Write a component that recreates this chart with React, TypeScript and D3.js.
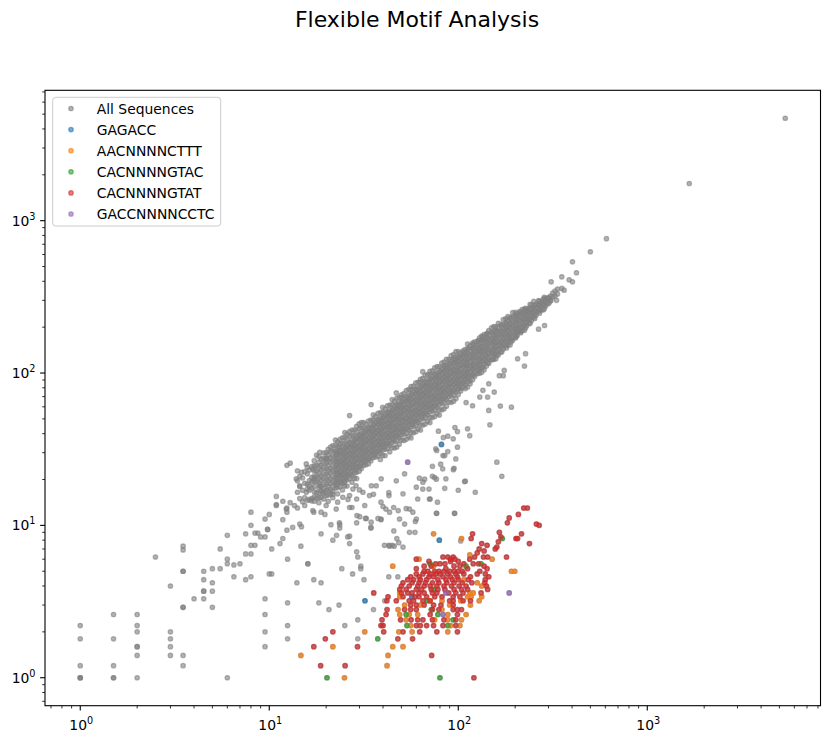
import { useEffect, useRef } from "react";
import * as d3 from "d3";

type Pt = [number, number];

// Dense diagonal cloud of "All Sequences", read column by column: [x, y values]
const coreColumns: [number, number[]][] = [
    [14.1, [13.0, 16.5, 19.6, 22.8]],
    [15.0, [14.3, 17.0, 20.5]],
    [15.9, [14.6, 17.3, 18.6, 21.8, 24.0]],
    [16.8, [15.0, 17.6, 19.3, 20.7, 24.3]],
    [17.8, [15.1, 16.4, 19.3, 20.9, 22.7, 24.6, 28.9]],
    [18.8, [15.3, 16.8, 18.0, 19.7, 21.1, 23.1, 24.8, 27.2]],
    [20.0, [15.7, 17.0, 18.5, 20.0, 21.7, 23.5, 25.5, 27.6, 29.9]],
    [21.1, [16.0, 17.2, 18.8, 20.2, 22.1, 23.7, 26.0, 27.8, 30.5, 32.7]],
    [22.4, [17.6, 19.1, 20.7, 22.4, 24.3, 26.3, 28.5, 30.9, 33.5, 36.3]],
    [23.7, [18.0, 19.3, 21.1, 22.6, 24.8, 26.6, 29.2, 31.2, 34.2, 36.7]],
    [25.1, [18.2, 19.7, 21.4, 23.2, 25.1, 27.2, 29.5, 32.0, 34.6, 37.5, 40.7]],
    [26.6, [20.2, 21.6, 23.7, 25.4, 27.9, 29.9, 32.7, 35.1, 38.4, 41.2]],
    [28.2, [20.4, 22.1, 24.0, 26.0, 28.2, 30.6, 33.1, 35.9, 38.9, 42.2]],
    [29.9, [22.7, 24.3, 26.6, 28.6, 31.3, 33.5, 36.8, 39.4, 43.2, 46.3]],
    [31.6, [24.8, 26.9, 29.2, 31.6, 34.3, 37.1, 40.3, 43.6, 47.3]],
    [33.5, [25.4, 27.2, 29.8, 32.0, 35.1, 37.6, 41.2, 44.2, 48.4]],
    [35.5, [27.9, 30.2, 32.8, 35.5, 38.5, 41.7, 45.2, 49.0, 53.1]],
    [37.6, [28.5, 30.6, 33.5, 35.9, 39.4, 42.2, 46.2, 49.6, 54.3]],
    [39.8, [28.8, 31.2, 33.9, 36.7, 39.8, 43.1, 46.8, 50.7, 54.9, 59.5]],
    [42.2, [32.0, 34.3, 37.6, 40.3, 44.2, 47.3, 51.9, 55.6, 61.0]],
    [44.7, [32.4, 35.1, 38.0, 41.3, 44.7, 48.5, 52.5, 56.9, 61.7, 66.9]],
    [47.3, [32.7, 35.9, 38.5, 42.1, 45.2, 49.5, 53.1, 58.2, 62.3, 68.3]],
    [50.1, [36.3, 39.3, 42.6, 46.2, 50.1, 54.3, 58.9, 63.8, 69.1, 72.0]],
    [53.1, [36.7, 40.3, 43.2, 47.3, 50.7, 55.6, 59.6, 65.3, 70.0, 76.7]],
    [56.2, [37.5, 40.7, 44.1, 47.8, 51.9, 56.2, 60.9, 66.0, 71.6, 77.6, 81.5]],
    [59.6, [41.2, 45.2, 48.5, 53.1, 56.9, 62.4, 66.9, 73.3, 78.6, 86.1]],
    [63.1, [42.2, 45.7, 49.5, 53.7, 58.2, 63.1, 68.4, 74.1, 80.4, 87.1, 91.0]],
    [66.8, [46.2, 50.7, 54.3, 59.5, 63.8, 69.9, 75.0, 82.2, 88.0, 96.5]],
    [70.8, [47.3, 51.3, 55.6, 60.2, 65.3, 70.8, 76.7, 83.2, 90.2, 97.7, 102.6]],
    [75.0, [51.9, 56.9, 61.0, 66.8, 71.6, 78.5, 84.2, 92.3, 98.9, 108]],
    [79.4, [53.0, 57.5, 62.3, 67.6, 73.3, 79.4, 86.1, 93.3, 101, 110]],
    [84.1, [58.2, 63.8, 68.4, 74.9, 80.3, 88.1, 94.4, 103, 111, 118]],
    [89.1, [64.5, 70.0, 75.8, 82.2, 89.1, 96.6, 105, 114, 123]],
    [94.4, [65.3, 71.7, 76.7, 84.1, 90.2, 98.8, 106, 116, 124, 132]],
    [100, [72.4, 78.5, 85.1, 92.3, 100, 108, 118, 127, 138]],
    [106, [80.4, 86.2, 94.4, 101, 111, 119, 130, 140]],
    [112, [81.1, 87.9, 95.3, 103, 112, 121, 132, 143, 155]],
    [119, [90.3, 96.7, 106, 114, 125, 134, 146, 157]],
    [126, [98.9, 107, 116, 126, 137, 148, 161]],
    [133, [101, 108, 119, 127, 139, 149, 164, 175]],
    [141, [111, 120, 130, 141, 153, 166, 180]],
    [150, [122, 134, 143, 157, 168, 185, 198]],
    [158, [124, 134, 146, 158, 171, 186, 201]],
    [168, [137, 150, 160, 176, 188, 207]],
    [178, [151, 164, 178, 193, 209, 227]],
    [188, [153, 168, 180, 197, 211, 231]],
    [200, [170, 185, 200, 217, 235, 250]],
    [211, [188, 202, 221, 237, 253]],
    [224, [191, 207, 224, 243, 263]],
    [237, [211, 226, 248, 266]],
    [251, [232, 251, 272, 295]],
    [266, [254, 279, 299]],
    [282, [260, 282, 306]],
    [298, [285, 312]],
    [316, [316, 335]],
    [335, [330, 355]],
];

// Second pass through the same cloud, between the columns above
const coreFill: [number, number[]][] = [
    [14.5, [15.0, 18.0, 21.0]],
    [15.4, [15.2, 18.9, 22.5]],
    [16.3, [14.8, 17.0, 18.2, 19.7, 23.1]],
    [17.3, [14.4, 15.4, 16.6, 18.0, 19.4, 20.9, 22.7, 24.6, 26.6]],
    [18.3, [14.1, 15.2, 16.3, 17.6, 19.0, 20.5, 22.1, 24.0, 26.0, 28.3]],
    [19.4, [14.9, 16.1, 17.3, 18.6, 20.2, 21.7, 23.5, 25.4, 27.5, 29.9]],
    [20.5, [14.4, 15.8, 17.0, 18.2, 19.7, 21.3, 23.0, 24.8, 26.9, 29.1, 31.6]],
    [21.7, [15.2, 16.7, 18.0, 19.3, 20.8, 22.6, 24.3, 26.3, 28.4, 30.8, 33.4]],
    [23.0, [16.1, 17.7, 19.1, 20.5, 22.1, 23.9, 25.8, 27.8, 30.1, 32.7, 35.4]],
    [24.4, [17.1, 18.8, 20.3, 21.7, 23.4, 25.4, 27.3, 29.5, 32.0, 34.6, 37.6]],
    [25.8, [18.1, 19.9, 21.4, 23.0, 24.8, 26.8, 28.9, 31.2, 33.8, 36.6, 39.7]],
    [27.4, [19.2, 21.1, 22.7, 24.4, 26.3, 28.5, 30.7, 33.2, 35.9, 38.9, 42.2]],
    [29.0, [20.3, 22.3, 24.1, 25.8, 27.8, 30.2, 32.5, 35.1, 38.0, 41.2, 44.7]],
    [30.7, [23.6, 25.5, 27.3, 29.5, 31.9, 34.4, 37.1, 40.2, 43.6, 47.3]],
    [32.5, [25.0, 27.0, 28.9, 31.2, 33.8, 36.4, 39.3, 42.6, 46.2]],
    [34.5, [26.6, 28.6, 30.7, 33.1, 35.9, 38.6, 41.7, 45.2, 49.0]],
    [36.5, [28.1, 30.3, 32.5, 35.0, 38.0, 40.9, 44.2, 47.8, 51.8]],
    [38.7, [27.1, 29.8, 32.1, 34.4, 37.2, 40.2, 43.3, 46.8, 50.7, 55.0]],
    [41.0, [28.7, 31.6, 34.0, 36.5, 39.4, 42.6, 45.9, 49.6, 53.7, 58.2]],
    [43.4, [30.4, 33.4, 36.0, 38.6, 41.7, 45.1, 48.6, 52.5, 56.9, 61.6]],
    [46.0, [32.2, 35.4, 38.2, 40.9, 44.2, 47.8, 51.5, 55.7, 60.3, 65.3]],
    [48.7, [34.1, 37.5, 40.4, 43.3, 46.8, 50.6, 54.5, 58.9, 63.8, 69.2]],
    [51.6, [36.1, 39.7, 42.8, 45.9, 49.5, 53.7, 57.8, 62.4, 67.6, 73.3]],
    [54.7, [38.3, 42.1, 45.4, 48.7, 52.5, 56.9, 61.3, 66.2, 71.7, 77.7]],
    [57.9, [40.5, 44.6, 48.1, 51.5, 55.6, 60.2, 64.8, 70.1, 75.8, 82.2]],
    [61.3, [42.9, 47.2, 50.9, 54.6, 58.8, 63.8, 68.7, 74.2, 80.3, 87.0]],
    [65.0, [45.5, 50.1, 54.0, 57.9, 62.4, 67.6, 72.8, 78.7, 85.2, 92.3]],
    [68.8, [48.2, 53.0, 57.1, 61.2, 66.0, 71.6, 77.1, 83.2, 90.1, 97.7]],
    [72.9, [51.0, 56.1, 60.5, 64.9, 70.0, 75.8, 81.6, 88.2, 95.5, 103.5]],
    [77.2, [54.0, 59.4, 64.1, 68.7, 74.1, 80.3, 86.5, 93.4, 101, 110]],
    [81.8, [57.3, 63.0, 67.9, 72.8, 78.5, 85.1, 91.6, 99.0, 107, 116]],
    [86.6, [60.6, 66.7, 71.9, 77.1, 83.1, 90.1, 97.0, 105, 113, 123]],
    [91.7, [64.2, 70.6, 76.1, 81.6, 88.0, 95.4, 103, 111, 120, 130]],
    [97.2, [68.0, 74.8, 80.7, 86.5, 93.3, 101, 109, 118, 127, 138]],
    [103, [76.2, 79.3, 85.5, 91.7, 98.9, 107, 115, 125, 135]],
    [109, [79.0, 83.9, 90.5, 97.0, 105, 113, 122, 132, 143]],
    [115.5, [85.0, 88.9, 95.9, 103, 111, 120, 129, 140, 151]],
    [122, [95.0, 101, 109, 117, 127, 137, 148, 160]],
    [129.5, [99.7, 107, 115, 124, 135, 145, 157, 170]],
    [137, [105, 114, 122, 132, 142, 153, 166, 179]],
    [145, [116, 125, 134, 143, 154, 166, 178, 190]],
    [154, [123, 132, 141, 152, 162, 175, 188, 202]],
    [163, [132, 141, 151, 162, 174, 186, 200, 212]],
    [173, [144, 154, 166, 180, 194, 209, 224]],
    [183, [152, 163, 176, 190, 205, 221, 235]],
    [194, [164, 173, 186, 202, 217, 234, 249]],
    [205, [176, 186, 197, 213, 230, 246]],
    [218, [190, 200, 212, 227, 244, 261]],
    [230, [204, 215, 228, 242, 258]],
    [244, [221, 234, 248, 265, 280]],
    [258, [239, 252, 266, 283]],
    [274, [258, 273, 290]],
    [290, [275, 292, 309]],
    [307, [297, 320]],
    [325, [320, 345]],
];

// Centre of the cloud, where the markers pile up most
const coreCentre: [number, number[]][] = [
    [22.7, [18.4, 19.9, 21.5, 23.2, 25.0, 27.0, 29.1]],
    [24.0, [19.4, 21.0, 22.7, 24.5, 26.4, 28.6, 30.7]],
    [25.4, [20.6, 22.2, 24.0, 25.9, 27.9, 30.2, 32.5]],
    [26.9, [21.8, 23.5, 25.4, 27.4, 29.6, 32.0, 34.4]],
    [28.5, [23.1, 24.9, 26.9, 29.1, 31.4, 33.9, 36.5]],
    [30.3, [24.5, 26.5, 28.6, 30.9, 33.3, 36.1, 38.8]],
    [32.0, [25.9, 28.0, 30.2, 32.6, 35.2, 38.1, 41.0]],
    [33.9, [27.5, 29.7, 32.0, 34.6, 37.3, 40.3, 43.4]],
    [35.9, [29.1, 31.4, 33.9, 36.6, 39.5, 42.7, 46.0]],
    [38.1, [30.9, 33.3, 36.0, 38.9, 41.9, 45.3, 48.8]],
    [40.3, [32.6, 35.3, 38.1, 41.1, 44.3, 48.0, 51.6]],
    [42.7, [34.6, 37.4, 40.4, 43.6, 47.0, 50.8, 54.7]],
    [45.2, [36.6, 39.6, 42.7, 46.1, 49.7, 53.8, 57.9]],
    [47.9, [38.8, 41.9, 45.3, 48.9, 52.7, 57.0, 61.3]],
    [50.7, [41.1, 44.4, 47.9, 51.7, 55.8, 60.3, 64.9]],
    [53.7, [43.5, 47.0, 50.7, 54.8, 59.1, 63.9, 68.7]],
    [56.9, [46.1, 49.8, 53.8, 58.0, 62.6, 67.7, 72.8]],
    [60.3, [48.8, 52.8, 57.0, 61.5, 66.3, 71.8, 77.2]],
    [63.9, [51.8, 55.9, 60.4, 65.2, 70.3, 76.0, 81.8]],
    [67.6, [54.8, 59.2, 63.9, 69.0, 74.4, 80.4, 86.5]],
    [71.6, [58.0, 62.7, 67.7, 73.0, 78.8, 85.2, 91.6]],
    [75.9, [61.5, 66.4, 71.7, 77.4, 83.5, 90.3, 97.2]],
    [80.4, [65.1, 70.4, 76.0, 82.0, 88.4, 95.7, 103]],
    [85.1, [68.9, 74.5, 80.4, 86.8, 93.6, 101, 109]],
    [90.2, [73.1, 78.9, 85.2, 92.0, 99.2, 107, 115]],
    [95.5, [77.4, 83.6, 90.2, 97.4, 105, 114, 122]],
    [101, [81.8, 88.4, 95.4, 103, 111, 120, 129]],
    [107, [86.7, 93.6, 101, 109, 118, 127, 137]],
    [113, [91.5, 98.9, 107, 115, 124, 134, 145]],
    [120, [97.2, 105, 113, 122, 132, 143, 154]],
    [128, [104, 112, 121, 131, 141, 152, 164]],
    [135, [109, 118, 128, 138, 149, 161, 173]],
    [143, [116, 125, 135, 146, 157, 170, 183]],
    [152, [123, 133, 144, 155, 167, 181]],
    [160, [130, 140, 151, 163, 176, 190]],
    [170, [138, 149, 161, 173, 187, 202]],
    [180, [146, 158, 170, 184, 198, 214]],
    [190, [160, 166, 180, 194, 209, 226]],
    [202, [172, 177, 191, 206, 222, 240]],
    [214, [184, 187, 202, 218, 235, 251]],
    [227, [198, 215, 232, 250, 266]],
    [240, [212, 227, 245, 264, 282]],
    [254, [228, 240, 259, 279]],
    [269, [247, 262, 280, 296]],
    [285, [264, 280, 299, 314]],
    [302, [288, 310]],
];

// Sparse points at the top end of the diagonal
const upperTail: Pt[] = [
    [309, 300], [331, 300], [310, 397], [353, 428], [353, 359], [363, 350], [386, 409],
    [402, 397], [422, 455], [402, 537], [500, 625], [608, 762], [1668, 1754], [5370, 4700],
    [266, 194], [286, 205],
];

// Scatter around and below the diagonal band
const belowBand: Pt[] = [
    [224, 111], [206, 124], [227, 134], [191, 59.7], [167, 60.7], [145, 56.8], [173, 96],
    [175, 104], [165, 96], [145, 85], [135, 77], [155, 75], [143, 69.5], [130, 69.5],
    [119, 61], [110, 64], [112, 43], [115, 38.8], [99, 41.3], [99, 32.6], [88, 38.5],
    [94, 37], [88, 30.5], [97, 27.3], [95, 23.7], [80.7, 25.2], [82.7, 23.5], [76, 31.8],
    [83, 28.7], [75, 20.6], [86, 20.2], [108, 19.4], [123, 16.5], [100, 17], [65, 19.2],
    [70, 17.3], [60, 17.8], [52, 21.8], [47, 19.6], [51, 16.1], [43, 15.7], [36.8, 18.2],
    [39, 14.2], [33.9, 15.7], [31.3, 16.5], [28.8, 18.2], [26.6, 15.7], [25, 19.2], [23, 14.2],
    [147, 45.7], [160, 26], [170, 21], [95.7, 12], [76.9, 12], [109, 19.5], [84.8, 17.5],
    [76.6, 20.1], [73, 21], [71, 14.9], [96, 43.9], [83.4, 37.7], [78.5, 41.5], [76.9, 31],
    [84.8, 28.7], [94.2, 23.2], [73, 24.4], [66.4, 20.1], [62.3, 20.4], [64.9, 17.3], [61, 14.9],
    [59.3, 10.6], [53, 12.9], [48.1, 12.5], [45.5, 13.1], [42.9, 16.4], [40, 13.3], [39, 10.9],
    [43.3, 7.3], [45.8, 7.3], [48.4, 7.7], [34.6, 10.5], [32.6, 11.1], [29.1, 11.6], [27.4, 13.1],
    [26.1, 14.8], [30, 17.1], [34.7, 18.2], [39.1, 20.2], [26.6, 8.5], [23.5, 10.4],
    [26.6, 52.6], [34.6, 62.1], [64.9, 102], [47, 74],
];

// Low-count sequences in the lower left
const lowCounts: Pt[] = [
    [1, 1], [1, 1], [1, 1], [1, 1.2], [1, 1.8], [1, 2.2],
    [1.5, 1], [1.5, 1], [1.5, 1.2], [1.5, 1.8], [1.5, 2.6],
    [2, 1], [2, 1.4], [2, 1.6], [2, 1.6], [2, 2.0], [2, 2.2], [2, 2.6],
    [2.5, 6.2],
    [3, 1.4], [3, 1.6], [3, 1.8], [3, 2.0], [3, 4.0],
    [3.5, 1.2], [3.5, 1.4], [3.5, 2.9], [3.5, 2.9], [3.5, 5.0], [3.5, 5.0], [3.5, 6.9], [3.5, 7.3],
    [4, 3.3],
    [4.5, 3.3], [4.5, 3.7], [4.5, 3.7], [4.5, 4.4], [4.5, 5.0],
    [5, 2.9], [5, 3.7], [5, 4.2], [5, 5.2],
    [5.5, 5.2], [5.5, 7.0],
    [6, 1], [6, 5.6], [6, 6.0], [6, 8.6],
    [6.5, 5.5], [6.5, 4.6], [7, 5.6],
    [7.5, 4.4], [7.5, 8.8], [7.5, 6.5],
    [8, 4.6], [8, 12.2], [8, 10], [8, 7.4], [8, 6.5],
    [8.4, 8.9], [8.4, 7.4], [8.7, 8.9], [9, 8.4],
    [9.5, 3.3], [9.5, 2.6], [9.5, 2.0], [9.5, 1.6], [9.5, 11], [9.5, 8.4],
    [9.8, 9.4], [9.8, 9.4], [10, 11.8], [10, 4.8], [10.3, 4.8], [10.3, 7.0],
    [10.9, 15.5], [10.9, 13.7], [11.4, 7.6], [11.8, 14.4], [11.8, 10.9], [11.8, 8.2],
    [12.4, 24.8], [12.9, 25.6], [12.4, 13.0], [12.4, 12.2], [12.4, 9.3], [12.5, 6.0],
    [12.5, 3.1], [12.5, 2.2], [12.5, 1.8],
    [12.9, 14.1], [13.3, 9.7], [14, 4.2], [14.5, 10.2], [14.8, 9.8], [14.7, 7.3],
    [16, 5.6], [16, 5.6], [17.2, 4.4], [17.2, 12.2], [18.3, 3.1], [18.8, 4.2], [18.8, 12.2],
    [18.8, 8.8], [19.7, 11.8],
    [20.7, 2.8], [21.2, 10.1], [21.7, 8.0], [22.7, 8.6], [23.4, 3.0], [23.6, 10.1], [23.6, 9.6],
    [24.2, 5.2], [25.1, 2.2], [26, 8.4], [26.6, 7.6], [27.6, 4.8], [29, 10.4], [29, 6.7],
    [29.4, 6.2], [29.4, 2.4], [29.4, 1.8], [30.5, 5.4], [30.5, 5.2], [31.7, 4.4], [32.3, 11.1],
    [34.5, 9.6], [35.6, 2.8], [37.6, 11.1], [30.1, 11.4],
    [40.8, 3.2], [42.9, 4.6], [47.9, 4.6], [40.7, 7.4], [42.9, 7.4], [44.7, 7.4], [47.3, 8.2],
    [51, 7.2], [55.2, 9.0], [59, 9.0], [45.6, 9.2], [52, 10.2], [48.9, 11.0], [60, 11.0],
    [39, 11.0], [41.4, 12.8], [43.3, 12.2], [55.2, 12.8], [57.5, 12.2], [76.6, 12], [95.5, 12],
    [70.4, 14.9], [77.6, 14.2], [103, 7.9], [34.5, 9.7],
    [13.9, 20.2], [14.8, 22.3], [14.5, 18.2], [15.7, 16.5], [16.7, 14.5], [17.3, 20.2],
    [18.5, 18.2], [19.2, 16.5], [10.9, 13.5], [12.3, 12.8], [13.6, 13.5], [15.4, 13.5],
    [17, 12.5], [20, 13.5], [22.6, 12.8], [26.6, 13.1], [29, 14.9], [32, 13.5], [35.6, 16],
    [21.7, 16], [24.5, 15.3], [27.7, 17.3], [17, 23.4], [15.7, 25.3], [20, 27.3], [22.6, 30.2],
    [18.5, 30.2], [23.5, 32.6],
];

// Motif series
const gagacc: Pt[] = [[81.5, 34], [79.4, 8.0], [32.1, 3.2], [56.7, 3.4]];

const aacnnnncttt: Pt[] = [
    [25, 1.0], [14.7, 1.4], [21.7, 1.6], [42, 1.2], [42.5, 1.4], [45, 1.6], [51, 1.6],
    [32, 2.0], [48.5, 2.0], [57, 2.0], [88, 2.0], [56, 2.2], [91, 2.2], [102, 2.2],
    [53, 2.4], [75, 2.4], [88, 2.4], [104, 2.4], [49, 2.6], [55, 2.6], [61, 2.6], [88, 2.6],
    [110, 2.6], [48, 2.8], [82, 2.8], [52, 3.0], [63, 3.0], [90, 3.0], [116, 3.0], [71, 3.2],
    [82, 3.2], [103, 3.2], [129, 3.2], [49, 3.4], [49, 3.6], [112, 3.4], [117, 3.4], [133, 3.4],
    [133, 4.0], [126, 4.2], [115, 3.6], [120, 3.6], [45, 5.4], [62, 6.0], [115, 6.4], [151, 6.0],
    [104, 8.2], [74, 8.8], [191, 5.0], [199, 5.0], [74, 5.4], [107, 4.4],
];

const cacnnnngtac: Pt[] = [
    [20.2, 1.0], [80, 1.0], [37.5, 1.8], [53.5, 2.2], [53, 2.6], [78, 2.6], [94, 2.4],
    [68.5, 3.2], [72, 2.8], [110, 5.4], [132, 5.6], [171, 8.2], [74, 3.8], [71, 5.6], [88, 2.2],
];

const cacnnnngtat: Pt[] = [
    [222, 13], [232, 13], [208, 11.8], [186, 11.2], [182, 10.4], [259, 10.2], [268, 10.0],
    [216, 8.8], [202, 8.2], [206, 8.2], [238, 7.6], [168, 8.4], [163, 7.8], [160, 7.2],
    [157, 7.0], [180, 6.2], [165, 9.0], [119, 8.8], [117, 8.2], [133, 7.6], [142, 7.4],
    [129, 7.0], [137, 6.8], [126, 6.6], [136, 6.2], [143, 6.2], [122, 6.2], [115, 6.0],
    [83, 6.2], [88, 6.2], [94, 6.2], [91, 6.0], [96, 6.0], [60, 6.0],
    [100, 5.8], [70, 5.8], [91, 5.8],
    [107, 5.6], [76, 5.6], [80, 5.6], [85, 5.6], [120, 5.6], [128, 5.6],
    [66, 5.4], [72, 5.4], [95, 5.4], [102, 5.4], [137, 5.4],
    [142, 5.2], [86, 5.2], [112, 5.2], [60, 5.2],
    [66, 5.0], [69, 5.0], [75, 5.0], [79, 5.0], [84, 5.0], [90, 5.0], [95, 5.0], [100, 5.0],
    [105, 5.0], [130, 5.0],
    [60, 4.8], [65, 4.8], [71, 4.8], [76, 4.8], [80, 4.8], [88, 4.8], [97, 4.8], [107, 4.8],
    [126, 4.8], [139, 4.8],
    [56, 4.6], [62, 4.6], [70, 4.6], [74, 4.6], [83, 4.6], [91, 4.6], [99, 4.6], [116, 4.6],
    [145, 4.6],
    [54, 4.4], [58, 4.4], [63, 4.4], [68, 4.4], [78, 4.4], [86, 4.4], [93, 4.4], [100, 4.4],
    [113, 4.4], [139, 4.4],
    [51, 4.2], [57, 4.2], [62, 4.2], [67, 4.2], [73, 4.2], [79, 4.2], [87, 4.2], [95, 4.2],
    [105, 4.2], [118, 4.2], [138, 4.2],
    [50, 4.0], [55, 4.0], [61, 4.0], [66, 4.0], [71, 4.0], [77, 4.0], [84, 4.0], [92, 4.0],
    [101, 4.0], [110, 4.0], [141, 4.0],
    [49, 3.8], [53, 3.8], [60, 3.8], [64, 3.8], [72, 3.8], [78, 3.8], [85, 3.8], [95, 3.8],
    [104, 3.8], [112, 3.8], [143, 3.8],
    [35.7, 3.6], [50, 3.6], [54, 3.6], [57, 3.6], [62, 3.6], [66, 3.6], [73, 3.6], [77, 3.6],
    [89, 3.6], [97, 3.6], [106, 3.6], [132, 3.6],
    [42.5, 3.4], [51, 3.4], [59, 3.4], [62, 3.4], [68, 3.4], [75, 3.4], [82, 3.4], [94, 3.4],
    [102, 3.4],
    [41.9, 3.2], [47, 3.2], [55, 3.2], [58, 3.2], [65, 3.2], [71, 3.2], [90, 3.2], [94, 3.2],
    [106, 3.2], [116, 3.2],
    [56, 3.0], [60, 3.0], [66, 3.0], [74, 3.0], [81, 3.0], [94, 3.0],
    [42, 2.8], [52, 2.8], [56, 2.8], [60, 2.8], [73, 2.8], [79, 2.8], [94, 2.8], [99, 2.8],
    [104, 2.8],
    [41.5, 2.6], [71, 2.6], [99, 2.6],
    [39.5, 2.4], [49.5, 2.4], [56.3, 2.4], [61, 2.4], [65, 2.4], [73, 2.4], [84, 2.4], [97, 2.4],
    [39, 2.2], [40, 2.2], [60, 2.2], [63, 2.2], [68, 2.2], [74, 2.2], [83, 2.2], [97, 2.2],
    [21.7, 2.0], [40.3, 2.0], [51, 2.0], [62.5, 2.0], [77, 2.0], [99, 2.0],
    [19.8, 1.8], [47.9, 1.8], [57.3, 1.8],
    [17.2, 1.6], [29.3, 1.6],
    [72.3, 1.4],
    [18.7, 1.2], [25.2, 1.2],
    [121, 1.0],
];

const gaccnnnncctc: Pt[] = [[54, 26], [186, 3.6], [86, 3.6], [83, 2.6]];

const seriesNames = ["All Sequences", "GAGACC", "AACNNNNCTTT", "CACNNNNGTAC", "CACNNNNGTAT", "GACCNNNNCCTC"];
const seriesColors = ["#808080", "#1f77b4", "#ff7f0e", "#2ca02c", "#d62728", "#9467bd"];

const WIDTH = 830;
const HEIGHT = 744;
const FONT = "'DejaVu Sans', sans-serif";

export default function App() {
    const svgRef = useRef<SVGSVGElement>(null);

    useEffect(() => {
        document.body.style.margin = "0";
        const svg = d3.select(svgRef.current);
        svg.selectAll("*").remove();

        const motifs: Pt[][] = [gagacc, aacnnnncttt, cacnnnngtac, cacnnnngtat, gaccnnnncctc];
        const fromColumns = (cols: [number, number[]][]) =>
            cols.flatMap(([x, ys]) => ys.map(y => [x, y] as Pt));
        // "All Sequences" contains every sequence, motif hits included
        const allSequences: Pt[] = [
            ...fromColumns(coreColumns),
            ...fromColumns(coreFill),
            ...fromColumns(coreCentre),
            ...upperTail,
            ...belowBand,
            ...lowCounts,
            ...motifs.flat(),
        ];
        const series = [allSequences, ...motifs];

        // log extent padded by 5% like matplotlib autoscale
        const logDomain = (vals: number[]) => {
            const lo = Math.log10(d3.min(vals) as number);
            const hi = Math.log10(d3.max(vals) as number);
            const m = (hi - lo) * 0.05;
            return [Math.pow(10, lo - m), Math.pow(10, hi + m)];
        };

        const left = 45, right = 820.5, top = 90.3, bottom = 705.7;
        const x = d3.scaleLog().domain(logDomain(allSequences.map(d => d[0]))).range([left, right]);
        const y = d3.scaleLog().domain(logDomain(allSequences.map(d => d[1]))).range([bottom, top]);

        // title
        svg.append("text")
            .attr("x", 417).attr("y", 26.7)
            .attr("text-anchor", "middle")
            .attr("font-family", FONT).attr("font-size", 22)
            .text("Flexible Motif Analysis");

        // points
        svg.append("defs").append("clipPath").attr("id", "plot-clip")
            .append("rect").attr("x", left).attr("y", top)
            .attr("width", right - left).attr("height", bottom - top);

        const plot = svg.append("g").attr("clip-path", "url(#plot-clip)");
        series.forEach((pts, i) => {
            plot.append("g").selectAll("circle")
                .data(pts)
                .enter().append("circle")
                .attr("cx", d => x(d[0]))
                .attr("cy", d => y(d[1]))
                .attr("r", 2.2)
                .attr("fill", seriesColors[i]).attr("fill-opacity", 0.6)
                .attr("stroke", seriesColors[i]).attr("stroke-opacity", 0.6)
                .attr("stroke-width", 1.3);
        });

        // ticks
        const isMajor = (v: number) => Math.abs(Math.log10(v) - Math.round(Math.log10(v))) < 1e-9;
        const axes = svg.append("g").attr("stroke", "#000");
        x.ticks().forEach(t => {
            const major = isMajor(t);
            axes.append("line")
                .attr("x1", x(t)).attr("x2", x(t))
                .attr("y1", bottom).attr("y2", bottom + (major ? 4.9 : 2.8))
                .attr("stroke-width", major ? 1.1 : 0.8);
        });
        y.ticks().forEach(t => {
            const major = isMajor(t);
            axes.append("line")
                .attr("y1", y(t)).attr("y2", y(t))
                .attr("x1", left).attr("x2", left - (major ? 4.9 : 2.8))
                .attr("stroke-width", major ? 1.1 : 0.8);
        });

        const addPowerLabel = (t: number, px: number, py: number, anchor: string) => {
            const txt = svg.append("text")
                .attr("x", px).attr("y", py)
                .attr("text-anchor", anchor)
                .attr("font-family", FONT).attr("font-size", 13.9);
            txt.append("tspan").text("10");
            txt.append("tspan")
                .attr("dy", -6).attr("font-size", 9.7)
                .text(String(Math.round(Math.log10(t))));
        };
        x.ticks().filter(isMajor).forEach(t => addPowerLabel(t, x(t) + 1, 730, "middle"));
        y.ticks().filter(isMajor).forEach(t => addPowerLabel(t, 35.5, y(t) + 5, "end"));

        // frame
        svg.append("rect")
            .attr("x", left).attr("y", top)
            .attr("width", right - left).attr("height", bottom - top)
            .attr("fill", "none").attr("stroke", "#000").attr("stroke-width", 1.1);

        // legend
        const legend = svg.append("g");
        legend.append("rect")
            .attr("x", 52.7).attr("y", 97.3)
            .attr("width", 168).attr("height", 128.7)
            .attr("rx", 3)
            .attr("fill", "#fff").attr("fill-opacity", 0.8)
            .attr("stroke", "#cccccc").attr("stroke-width", 1);
        seriesNames.forEach((name, i) => {
            const rowY = 108.5 + i * 21.1;
            legend.append("circle")
                .attr("cx", 71).attr("cy", rowY).attr("r", 2.2)
                .attr("fill", seriesColors[i]).attr("fill-opacity", 0.6)
                .attr("stroke", seriesColors[i]).attr("stroke-opacity", 0.6)
                .attr("stroke-width", 1.3);
            legend.append("text")
                .attr("x", 96.7).attr("y", rowY + 5)
                .attr("font-family", FONT).attr("font-size", 13.9)
                .text(name);
        });
    }, []);

    return <svg ref={svgRef} width={WIDTH} height={HEIGHT} style={{ display: "block" }} />;
}
